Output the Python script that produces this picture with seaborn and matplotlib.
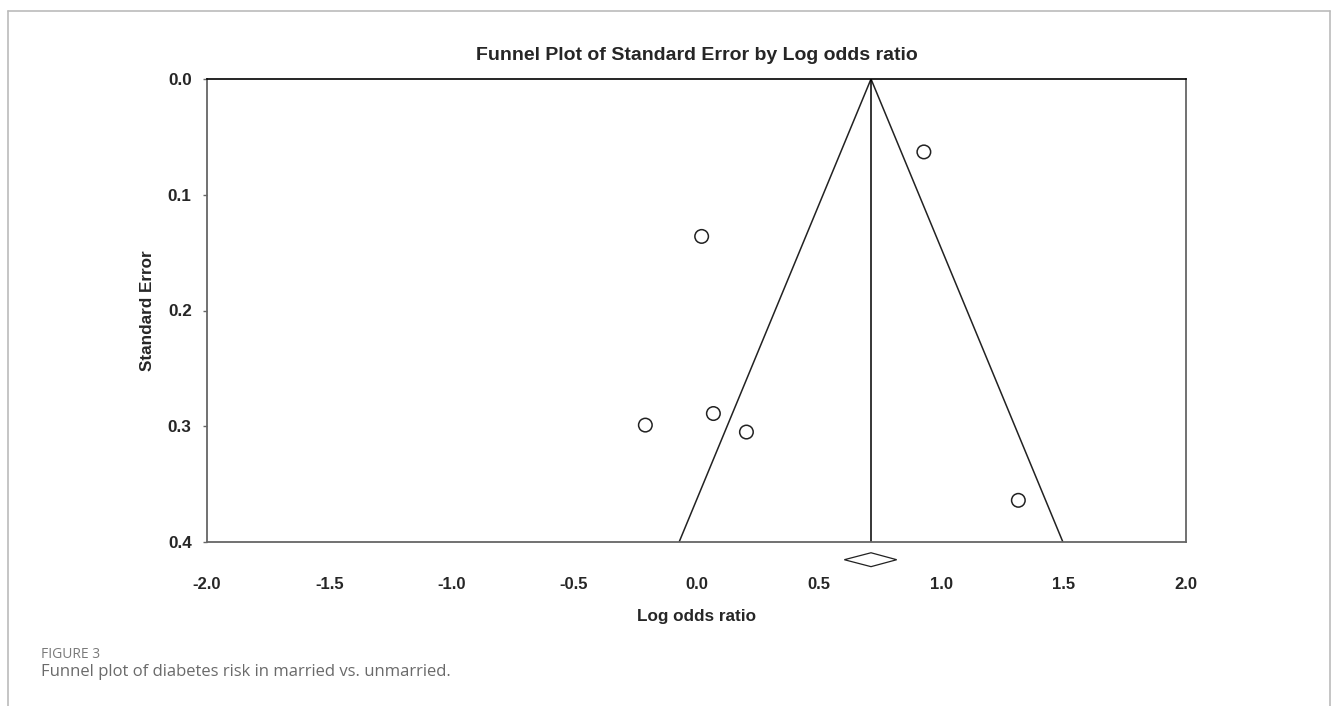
import numpy as np
import pandas as pd
import matplotlib
matplotlib.use("Agg")
import matplotlib.pyplot as plt
from matplotlib.lines import Line2D
import seaborn as sns

# --- study data ---
log_odds = [0.929, 0.021, -0.209, 0.069, 0.204, 1.315]
std_err = [0.063, 0.136, 0.299, 0.289, 0.305, 0.364]

pooled_est = 0.713
pooled_lo = 0.604
pooled_hi = 0.818

x_ticks = [-2.0, -1.5, -1.0, -0.5, 0.0, 0.5, 1.0, 1.5, 2.0]
y_ticks = [0.0, 0.1, 0.2, 0.3, 0.4]
se_max = 0.4

df = pd.DataFrame({"Log odds ratio": log_odds, "Standard Error": std_err})

sns.set_style("white")
plt.rcParams["font.family"] = ["Liberation Sans", "DejaVu Sans"]

W, H = 1331, 706
fig = plt.figure(figsize=(W / 100, H / 100), dpi=100)
ax = fig.add_axes([207 / W, 1 - 542 / H, (1186 - 207) / W, (542 - 79) / H])

# funnel (95% pseudo-confidence limits) and pooled line
ax.plot([pooled_est - 1.96 * se_max, pooled_est, pooled_est + 1.96 * se_max],
        [se_max, 0, se_max], color="#222222", lw=1.1)
ax.plot([pooled_est, pooled_est], [0, se_max], color="black", lw=1.1)

sns.scatterplot(data=df, x="Log odds ratio", y="Standard Error", ax=ax,
                s=95, facecolor="none", edgecolor="#222222", linewidth=1.1,
                zorder=5)

# pooled estimate diamond below the axis
yd, hd = 0.4153, 0.006
ax.fill([pooled_lo, pooled_est, pooled_hi, pooled_est],
        [yd, yd - hd, yd, yd + hd], facecolor="white", edgecolor="#222222",
        lw=0.9, clip_on=False, zorder=6)

ax.set_xlim(-2, 2)
ax.set_ylim(se_max, 0)
ax.set_xticks(x_ticks)
ax.set_xticklabels([f"{v:.1f}" for v in x_ticks])
ax.set_yticks(y_ticks)
ax.set_yticklabels([f"{v:.1f}" for v in y_ticks])

ax.tick_params(axis="x", direction="inout", length=6, width=1, color="#333333",
               pad=22, labelsize=12)
ax.tick_params(axis="y", direction="out", length=3, width=1, color="#666666",
               pad=8, labelsize=12.3, left=True)
for lab in ax.get_xticklabels() + ax.get_yticklabels():
    lab.set_fontweight("bold")

ax.set_xlabel("Log odds ratio", fontsize=12.3, fontweight="bold")
ax.set_ylabel("Standard Error", fontsize=12.3, fontweight="bold")
ax.xaxis.set_label_coords(0.5, -(616 - 542) / (542 - 79), transform=ax.transAxes)
ax.xaxis.label.set_va("center")
ax.yaxis.set_label_coords(-(207 - 147) / (1186 - 207), 0.5, transform=ax.transAxes)
ax.yaxis.label.set_va("center")
ax.set_title("Funnel Plot of Standard Error by Log odds ratio", fontsize=14,
             fontweight="bold", pad=(79 - 60) * 0.72)

for side in ["left", "bottom", "right"]:
    ax.spines[side].set_color("#666666")
    ax.spines[side].set_linewidth(1.3)
ax.spines["top"].set_color("black")
ax.spines["top"].set_linewidth(1.2)

# outer page frame
frame_kw = dict(color="#bbbbbb", lw=1.2, transform=None)
fig.add_artist(Line2D([7.5, 1330], [H - 10.5, H - 10.5], **frame_kw))
fig.add_artist(Line2D([7.5, 7.5], [0, H - 10.5], **frame_kw))
fig.add_artist(Line2D([1330, 1330], [0, H - 10.5], **frame_kw))

# caption
fig.text(41 / W, 1 - 658 / H, "FIGURE 3", fontsize=10, color="#7a7a7a",
         family=["Open Sans", "DejaVu Sans"], va="baseline")
fig.text(41 / W, 1 - 676 / H, "Funnel plot of diabetes risk in married vs. unmarried.",
         fontsize=12, color="#6a6a6a", family=["Open Sans", "DejaVu Sans"],
         va="baseline")

fig.savefig("out.png", dpi=100)
